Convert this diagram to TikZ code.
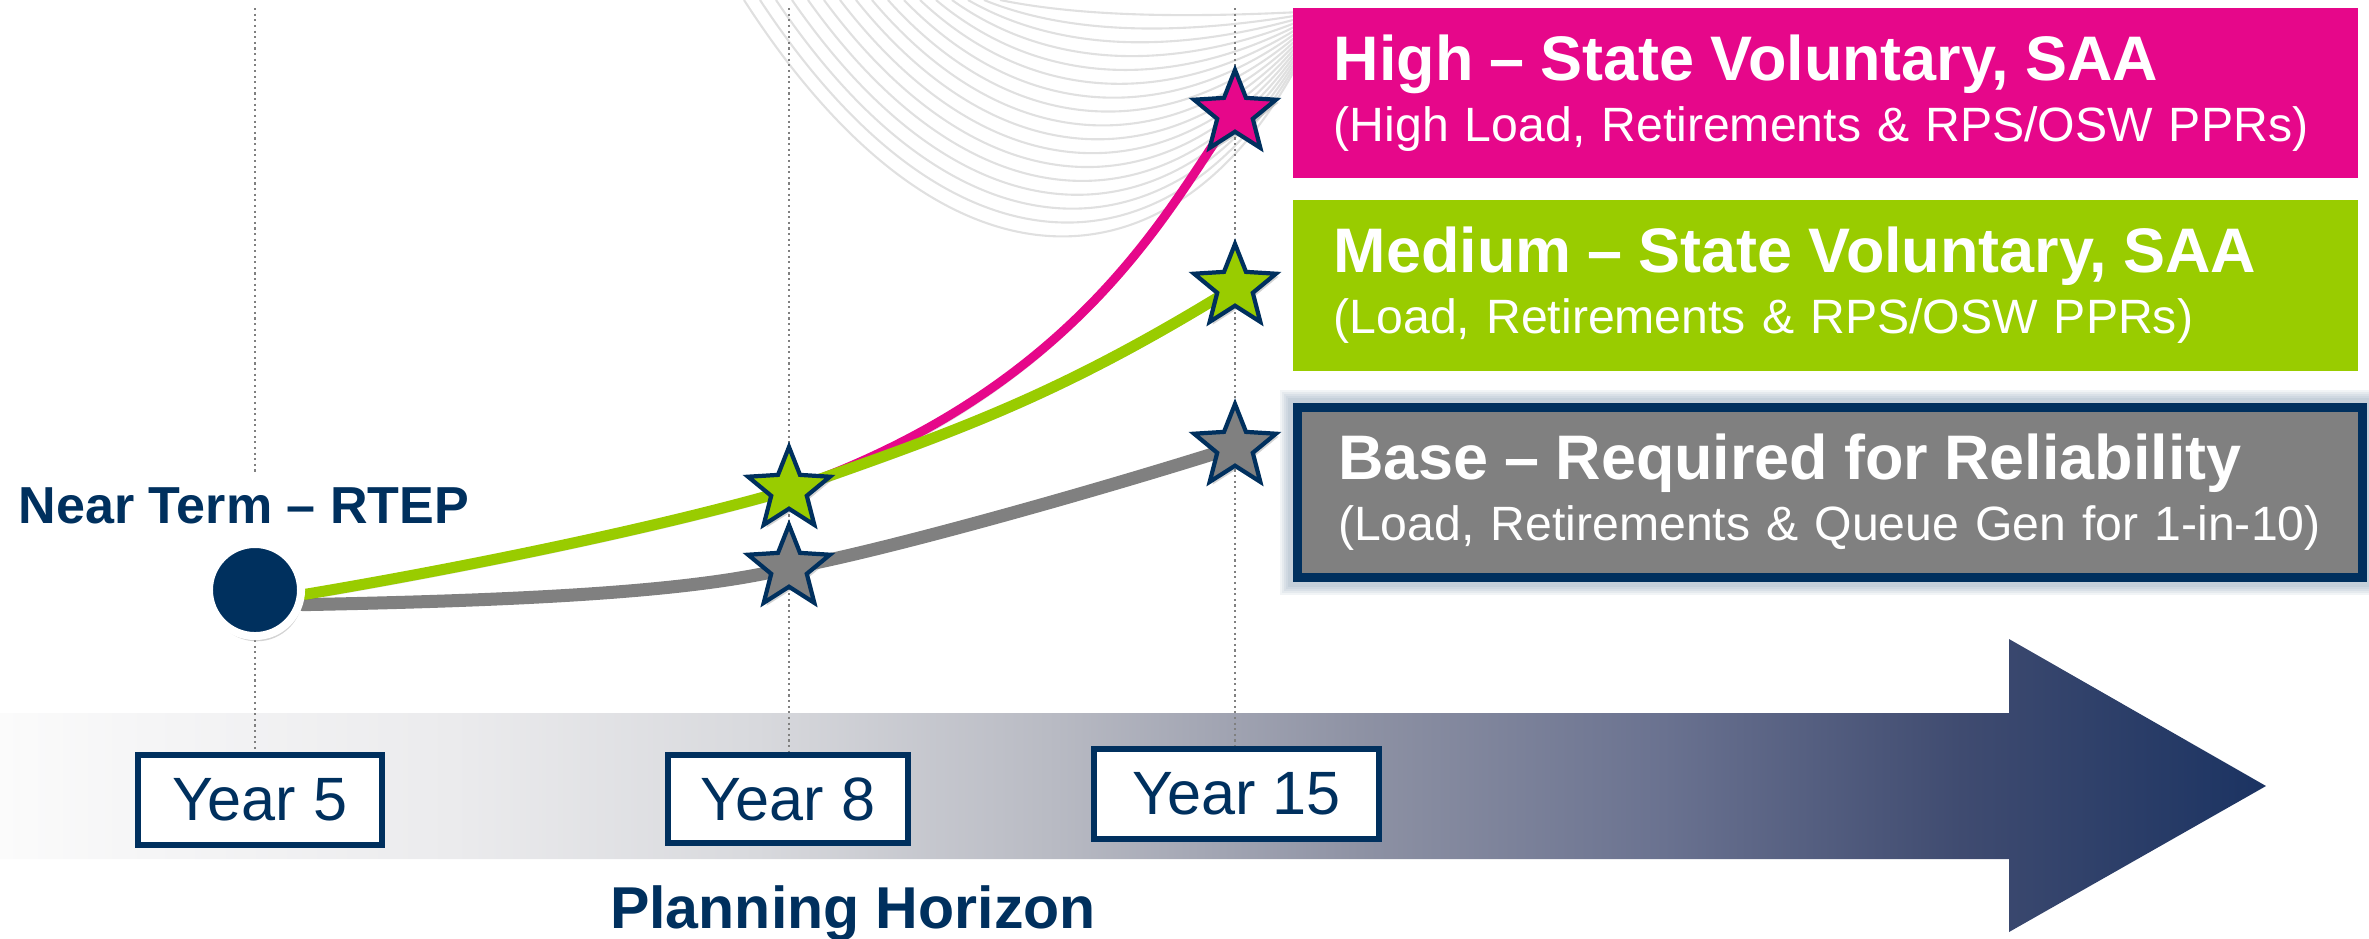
\documentclass[tikz,border=0pt]{standalone}
\usepackage{fontspec}
\setmainfont{Liberation Sans}
\usetikzlibrary{shapes.geometric,shadows,backgrounds}

\definecolor{navy}{HTML}{00305E}
\definecolor{pink}{HTML}{E6078A}
\definecolor{lime}{HTML}{99CC00}
\definecolor{midgray}{HTML}{808080}
\definecolor{hz0}{HTML}{FBFBFB}
\definecolor{hz1}{HTML}{F5F5F6}
\definecolor{hz2}{HTML}{EBEBED}
\definecolor{hz3}{HTML}{D8D9DD}
\definecolor{hz4}{HTML}{B8BAC3}
\definecolor{hz5}{HTML}{8E92A4}
\definecolor{hz6}{HTML}{6A7290}
\definecolor{hz7}{HTML}{3F4B70}
\definecolor{hz8}{HTML}{1B3362}
\pgfdeclarehorizontalshading{horizon}{100bp}{color(0bp)=(hz0); color(25bp)=(hz0);
  color(28.3bp)=(hz1); color(35bp)=(hz2); color(41.7bp)=(hz3); color(48.3bp)=(hz4);
  color(55bp)=(hz5); color(61.7bp)=(hz6); color(68.3bp)=(hz7); color(75bp)=(hz8); color(100bp)=(hz8)}

\newcommand{\scen}[2]{{\fontsize{17.9}{17.35}\selectfont\bfseries #1}\\#2}

\begin{document}
\begin{tikzpicture}[x=0.01cm,y=-0.01cm,
  guide/.style={densely dotted,line width=0.6pt,draw=black!50},
  wave/.style={draw=black!12,line width=0.6pt},
  trend/.style={line width=#1,line cap=round,
    preaction={draw=black,opacity=0.12,transform canvas={yshift=-1.5pt}}},
  scenario/.style={anchor=north west,minimum width=10.65cm,minimum height=1.70cm,
    text width=9.83cm,inner xsep=0.41cm,inner ysep=0pt,align=left,text=white,
    font=\fontsize{13.7}{17.35}\selectfont},
  milestone/.style={star,star points=5,star point ratio=2.3,minimum size=0.86cm,
    inner sep=0pt,draw=navy,line width=1.2pt,
    drop shadow={opacity=0.35,shadow xshift=0.8pt,shadow yshift=-0.8pt}},
  yearbox/.style={draw=navy,fill=white,line width=0.06cm,inner sep=0pt,text=navy,
    font=\fontsize{17.4}{20}\selectfont}]
  \useasboundingbox (0,0) rectangle (2369,938);

  \node[scenario,fill=pink] (high) at (1292,7)
    {\scen{High – State Voluntary, SAA}{(High Load, Retirements \& RPS/OSW PPRs)}};
  \node[scenario,fill=lime,minimum height=1.71cm] (med) at (1292,199)
    {\scen{Medium – State Voluntary, SAA}{(Load, Retirements \& RPS/OSW PPRs)}};
  \node[scenario,fill=midgray,draw=navy,line width=0.09cm,minimum width=10.64cm] (base) at (1292.5,402.5)
    {\scen{Base – Required for Reliability}{(Load, Retirements \& Queue Gen for 1-in-10)}};

  \node[milestone,fill=pink]    (h15) at (1235,113) {};
  \node[milestone,fill=lime]    (m15) at (1235,287) {};
  \node[milestone,fill=midgray] (b15) at (1235,447) {};
  \node[milestone,fill=lime]    (m8)  at (789,490) {};
  \node[milestone,fill=midgray] (b8)  at (789,568) {};

  \node[circle,fill=navy,draw=white,line width=0.08cm,minimum size=0.92cm,
    drop shadow={opacity=0.35,shadow xshift=0.5pt,shadow yshift=-1.5pt}] (rtep) at (255,590) {};
  \node[anchor=base,fill=white,inner sep=0.15cm,text=navy,
    font=\fontsize{14.8}{16}\selectfont\bfseries] (near) at (244,523) {Near Term – RTEP};

  \node[yearbox,minimum width=2.43cm,minimum height=0.90cm] (y5)  at (260,800) {Year 5};
  \node[yearbox,minimum width=2.40cm,minimum height=0.88cm] (y8)  at (788,799) {Year 8};
  \node[yearbox,minimum width=2.85cm,minimum height=0.90cm] (y15) at (1236.5,794) {Year 15};

  \node[anchor=base,text=navy,font=\fontsize{16.8}{18}\selectfont\bfseries] (horizon) at (853,928) {Planning Horizon};

  \begin{scope}[on background layer]
    \path[shading=horizon] (0,713) -- (2009,713) -- (2009,639) -- (2266,786)
      -- (2009,932) -- (2009,859) -- (0,859) -- cycle;
    \foreach \i in {0,...,16}
      \draw[wave] ({744+16*\i},0) .. controls ({950+8*\i},{320-19*\i}) and (1180,{290-17*\i}) .. (1300,{60-3*\i});
    \foreach \g in {0.10,0.14,0.18,0.22,0.26}
      \draw[navy!60,opacity=0.09,line width=\g cm] (base.north west) rectangle (base.south east);

    \coordinate (t5) at (255,8);
    \coordinate (t8) at (789,8);
    \coordinate (t15) at (1235,8);
    \draw[guide] (t5) -- (t5 |- near.north);
    \draw[guide] (rtep.south) -- (rtep.south |- y5.north);
    \draw[guide] (t8) -- (t8 |- y8.north);
    \draw[guide] (t15) -- (t15 |- y15.north);

    \draw[trend=0.13cm,midgray] (rtep.-17) .. controls (550,600) and (700,590) .. (b8.center)
      .. controls (880,552) and (1100,490) .. (b15.center);
    \draw[trend=0.09cm,pink] (m8.center) .. controls (1089,385) and (1175,194) .. (h15.center);
    \draw[trend=0.11cm,lime] (rtep.-5) .. controls (450,570) and (650,530) .. (m8.center)
      .. controls (960,430) and (1060,395) .. (m15.center);
  \end{scope}
\end{tikzpicture}
\end{document}
